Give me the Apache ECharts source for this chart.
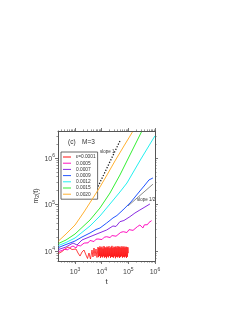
<!DOCTYPE html>
<html><head><meta charset="utf-8">
<script src="https://cdn.jsdelivr.net/npm/echarts@6/dist/echarts.min.js"></script>
<style>html,body{margin:0;padding:0;background:#fff}#c{width:240px;height:310px}</style>
</head><body><div id="c"></div>
<script>
// ---- data ----
const seriesNames = ['ε=0.0001','0.0005','0.0007','0.0009','0.0012','0.0015','0.0020'];

const tRed = [240,326,422,547,650,773,918,1090,1295,1540,1830,2170,2580,2940,3340,3800,4340,4720,5150,5610,6120,6670,
  7300,7600,7900,8300,8600,9000,9400,9800,10300,10700,11200,11700,12200,12700,13300,13900,14500,15100,15800,16500,
  17200,18000,18800,19600,20500,21400,22300,23300,24300,25400,26500,27700,28900,30200,31500,32900,34300,35800,37400,39100,
  40800,42600,44500,46400,48500,50600,52900,55200,57600,60200,62800,65600,68500,71500,74600,77900,81400,85000,88700,92600,96700,100000];
const mRed = [8840,9750,11040,12190,11890,10770,10000,11040,9060,7800,9510,10510,8210,6900,9060,6730,10510,7430,11600,7800,11040,7250,
  12200,7400,11600,7800,12600,7100,11900,7600,12400,7300,11300,7700,12800,7200,12100,7500,11800,7000,12500,7600,
  12000,7300,12700,7800,11500,7100,12300,7500,12900,7400,11700,7200,12400,7700,12100,7000,12600,7500,11900,7300,
  12800,7600,12200,7100,12500,7400,11800,7700,12700,7200,12000,7500,12600,7300,11900,7600,12400,7100,12200,7500,12000,9000];

const tMag = [240,280,326,390,460,540,650,740,841,960,1090,1250,1410,1600,1830,2200,2580,3100,3650,4300,
  5150,6100,7260,8600,10260,12500,15400,17800,20500,24500,28900,34500,40800,52000,64400,76000,88700,106000,125000,150000,
  176600,220000,271600,310000,352200,400000,456400,520000,591600,670000,746000];
const mMag = [9750,9500,10250,10900,11040,10600,11890,12400,12820,12000,11600,13200,13800,12900,13130,14800,15620,15000,16830,17500,
  16000,17900,18120,16900,17660,19800,20300,18700,19500,21500,22650,20800,22100,25200,26000,23800,25000,28800,30500,27800,
  29700,33500,36200,33000,31300,36500,39000,36800,41000,43500,44900];

const tPur = [240,460,841,1190,1830,3650,7260,15400,26500,34400,48400,68400,114800,176600,271600,418800,644000];
const mPur = [10770,12190,14860,13460,17250,20300,23800,28300,34500,33700,42700,45300,54700,65600,76200,88300,102600];

const tBlu = [240,460,1000,1830,3650,6120,8630,15400,26500,37400,62800,125000,271600,418800,591600,673000,834000];
const mBlu = [11890,13800,16400,20000,24400,29000,31200,40000,51300,58000,76200,113200,195000,262400,336500,371500,371500];

const tCya = [240,460,1000,3650,8630,20500,48400,88700,296500,990000];
const mCya = [13130,15240,19050,34500,56600,102600,185700,289700,950000,2970000];

const tGre = [240,460,1000,3650,8630,20500,48400,114800,309700];
const mGre = [14500,17250,23200,46400,84100,176500,430000,1160000,3620000];

const tOra = [240,460,1000,2170,4720,8630,15800,31500,68400,142600];
const mOra = [16400,23200,36200,69000,138000,237700,430000,861000,1810000,3620000];

const slope1T = [4720, 48400];
const slope1M = [145000, 2320000];
const slopeHalfT = [96600, 834000];
const slopeHalfM = [92900, 272900];

const xMajor = [1e3,1e4,1e5,1e6];
const yMajor = [1e4,1e5,1e6];
const xMinor = [300,400,500,600,700,800,900,2000,3000,4000,5000,6000,7000,8000,9000,
  20000,30000,40000,50000,60000,70000,80000,90000,200000,300000,400000,500000,600000,700000,800000,900000];
const yMinor = [7000,8000,9000,20000,30000,40000,50000,60000,70000,80000,90000,
  200000,300000,400000,500000,600000,700000,800000,900000,2000000,3000000];

// ---- styles ----
const colors = ['#ff1010','#ff10c0','#8a2be2','#2255ff','#22f0f0','#33ee33','#ffb030'];
const FONT = 'Liberation Sans, Arial, sans-serif';
const AX = '#555';
const X_MIN = 230, X_MAX = 1e6, Y_MIN = 6100, Y_MAX = 3.8e6;

const seriesData = [[tRed,mRed],[tMag,mMag],[tPur,mPur],[tBlu,mBlu],[tCya,mCya],[tGre,mGre],[tOra,mOra]];
const zip = (a,b) => a.map((v,i)=>[v,b[i]]);

const richSup = {
  b:{fontSize:7, fontFamily:FONT, color:'#444', lineHeight:9, verticalAlign:'bottom'},
  sup:{fontSize:5, fontFamily:FONT, color:'#444', lineHeight:6, verticalAlign:'top'}
};
function supFmt(v){ return '{b|10}{sup|' + Math.round(Math.log10(v)) + '}'; }

function mkAxis(dim, pos, major, showLabels, name){
  const isX = dim==='x';
  const base = {
    type:'log', logBase:10, gridIndex:0, position:pos,
    min: isX?X_MIN:Y_MIN, max: isX?X_MAX:Y_MAX,
    splitLine:{show:false}, minorTick:{show:false}, minorSplitLine:{show:false}
  };
  if (major){
    return Object.assign(base, {
      axisLine:{show:true, onZero:false, lineStyle:{color:AX, width:1}},
      axisTick:{show:true, inside:false, length:3, lineStyle:{color:AX, width:0.8}, customValues: isX?xMajor:yMajor},
      axisLabel:{show:showLabels, customValues: isX?xMajor:yMajor, margin: isX?6:3,
        formatter:supFmt, rich:richSup},
      name: name||'', nameLocation:'middle', nameGap: isX?17:15,
      nameTextStyle: isX ? {fontSize:8, fontFamily:FONT, color:'#333'} :
        {fontSize:7, fontFamily:FONT, color:'#333', rich:{sub:{fontSize:5, fontFamily:FONT, color:'#333', verticalAlign:'bottom', lineHeight:9}, n:{fontSize:7,fontFamily:FONT,color:'#333',lineHeight:9}}}
    });
  }
  return Object.assign(base, {
    axisLine:{show:false, onZero:false},
    axisTick:{show:true, inside:false, length:1.6, lineStyle:{color:AX, width:0.6}, customValues: isX?xMinor:yMinor},
    axisLabel:{show:false}
  });
}

const xAxes = [
  mkAxis('x','bottom',true,true,'t'),
  mkAxis('x','bottom',false,false),
  mkAxis('x','top',true,false),
  mkAxis('x','top',false,false)
];
const yAxes = [
  mkAxis('y','left',true,true,'{n|m}{sub|2}{n|(t)}'),
  mkAxis('y','left',false,false),
  mkAxis('y','right',true,false),
  mkAxis('y','right',false,false)
];

const series = seriesData.map((d,i)=>({
  name: seriesNames[i], type:'line', xAxisIndex:0, yAxisIndex:0,
  data: zip(d[0], d[1]), symbol:'none', showSymbol:false, smooth:false,
  lineStyle:{color:colors[i], width:(i===0?0.8:1)}, itemStyle:{color:colors[i]},
  clip:true, silent:true, z: 3 + i
}));
series.push({
  name:'slope1', type:'line', xAxisIndex:0, yAxisIndex:0, data: zip(slope1T, slope1M),
  symbol:'none', lineStyle:{color:'#222', width:1.3, type:[1.3,1.6]}, silent:true, z:2
});
series.push({
  name:'slopeHalf', type:'line', xAxisIndex:0, yAxisIndex:0, data: zip(slopeHalfT, slopeHalfM),
  symbol:'none', lineStyle:{color:'#8a8a8a', width:1}, silent:true, z:2
});

const option = {
  animation:false,
  backgroundColor:'#fff',
  grid:{left:58, right:85, top:131, bottom:49, containLabel:false, outerBoundsMode:'none'},
  xAxis: xAxes,
  yAxis: yAxes,
  legend:{
    data: seriesNames, orient:'vertical', left:61, top:152,
    icon:'rect', padding:[2.5,2,2.5,2], itemGap:1.2, itemWidth:8, itemHeight:1,
    borderColor:'#444', borderWidth:0.8, backgroundColor:'#fff',
    textStyle:{fontSize:4.8, fontFamily:FONT, color:'#333', lineHeight:5},
    selectedMode:false
  },
  graphic:[
    {type:'text', left:68, top:139, style:{text:'(c)', fontSize:6.5, fontFamily:FONT, fill:'#333'}},
    {type:'text', left:82, top:139, style:{text:'M=3', fontSize:6.5, fontFamily:FONT, fill:'#333'}},
    {type:'text', left:100, top:149, style:{text:'slope 1', fontSize:4.5, fontFamily:FONT, fill:'#333'}},
    {type:'text', left:137, top:197, style:{text:'slope 1/2', fontSize:4.5, fontFamily:FONT, fill:'#333'}}
  ],
  series: series
};
const chart = echarts.init(document.getElementById('c'), null, {renderer:'canvas'});
chart.setOption(option);
</script>
</body></html>
